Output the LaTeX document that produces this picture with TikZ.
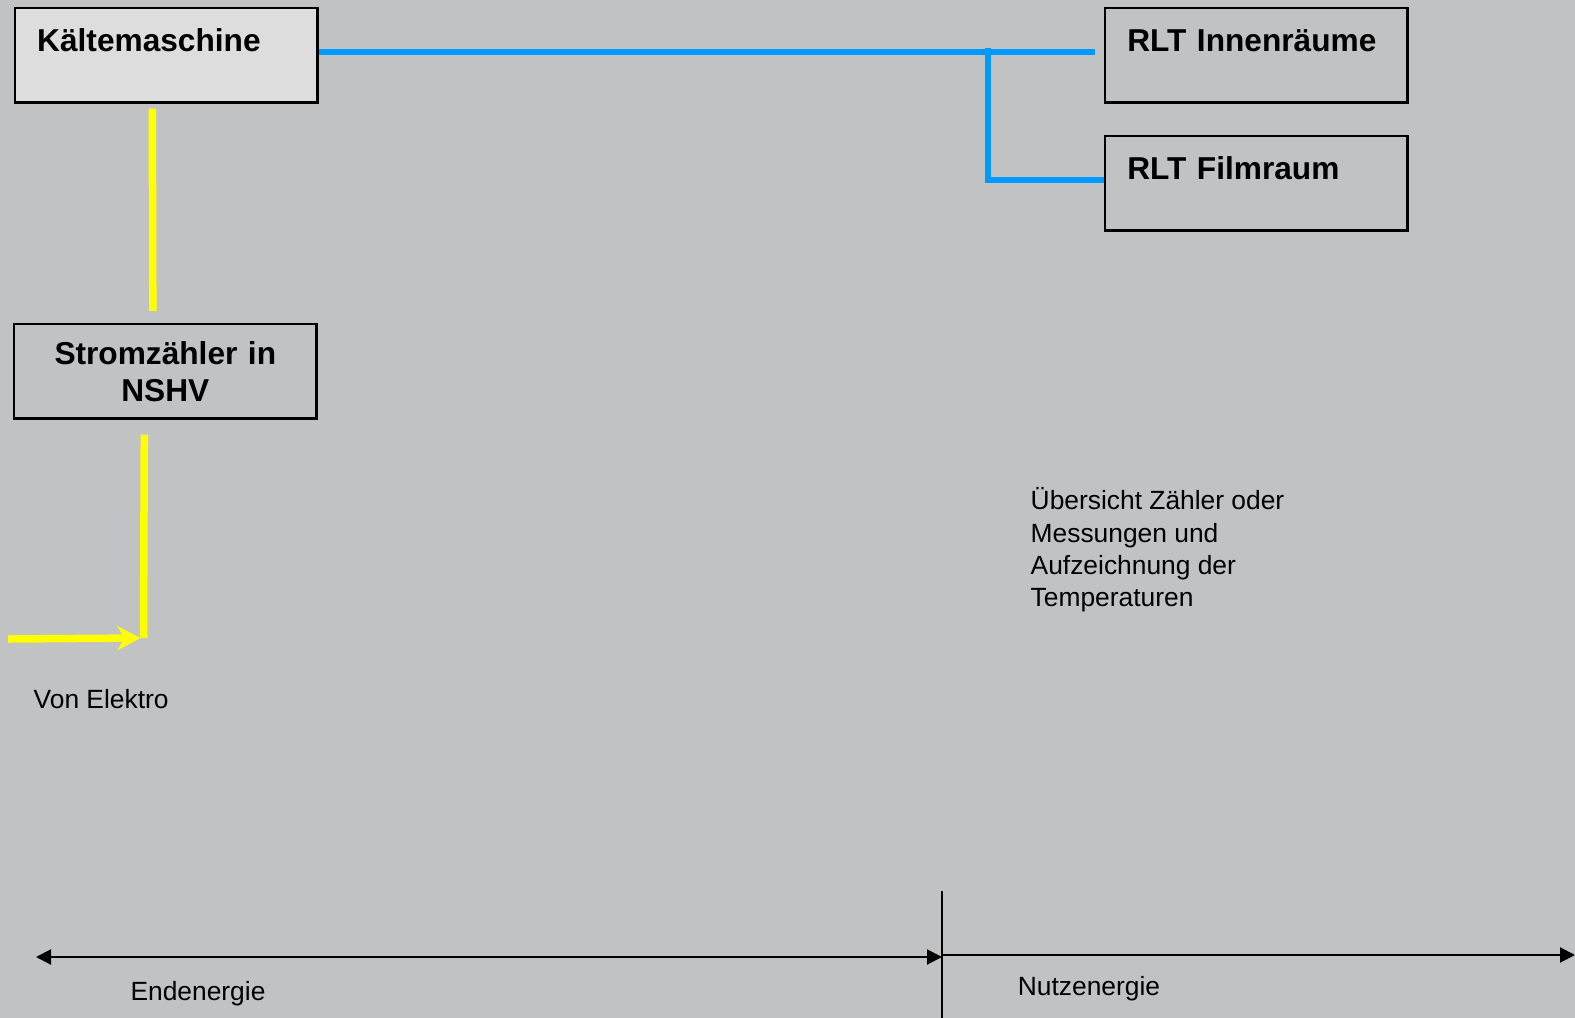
\documentclass[tikz,border=0pt]{standalone}
\usepackage{fontspec}
\setmainfont{Liberation Sans}
\usetikzlibrary{positioning, arrows.meta}
\definecolor{bggray}{RGB}{193,194,196}
\definecolor{boxgray}{RGB}{221,221,221}
\definecolor{coldblue}{RGB}{0,153,255}
\definecolor{powyellow}{RGB}{255,255,0}

\begin{document}
\begin{tikzpicture}[
        x=0.01cm, y=-0.01cm,
        unit/.style  = {draw, line width=0.7pt, anchor=north west, inner xsep=0.22cm, inner ysep=0pt, text width=2.58cm, align=left, text height=0.43cm, text depth=0.51cm, font=\fontsize{9}{10.5}\selectfont\bfseries},
        meter/.style = {draw, line width=0.7pt, anchor=north west, inner xsep=0.22cm, inner ysep=0pt, text width=2.58cm, minimum height=0.94cm, align=center, font=\fontsize{9}{10.5}\selectfont\bfseries},
        note/.style  = {inner sep=0pt, align=left, font=\fontsize{7.5}{9.2}\selectfont},
        coldline/.style = {coldblue, line width=0.06cm},
        powline/.style  = {powyellow, line width=0.075cm},
        axis/.style     = {black, line width=0.6pt},
        axtip/.tip      = {Triangle[length=0.15cm, width=0.15cm]},
    ]
        % Background
        \fill[bggray] (0,0) rectangle (1575,1018);
        \useasboundingbox (0,0) rectangle (1575,1018);

        % Units
        \node[unit, fill=boxgray] (kaelte) at (14,7) {Kältemaschine};
        \node[unit] (innen) at (1104,7) {RLT Innenräume};
        \node[unit] (film) at (1104,135) {RLT Filmraum};
        \node[meter] (nshv) at (13,323) {Stromzähler in\\NSHV};

        % Texts
        \node[note, anchor=west] (vonelektro) at (33,699) {Von Elektro};
        \node[note, anchor=west] (overview) at (1030,550) {Übersicht Zähler oder\\Messungen und\\Aufzeichnung der\\Temperaturen};
        \node[note] (endlabel) at (198,994) {Endenergie};
        \node[note] (nutzlabel) at (1089,989) {Nutzenergie};

        % Cold water
        \coordinate (tee) at (988,48);
        \coordinate (innenEnd) at (1095,52);
        \coordinate (filmIn) at (1104,180);
        \draw[coldline] (kaelte.east |- innenEnd) -- (innenEnd);
        \draw[coldline] (tee) |- (filmIn);

        % Power supply
        \coordinate (bend) at (143.5,638);
        \coordinate (feed) at (8,639);
        \draw[powline] ([xshift=-0.14cm, yshift=-0.05cm]kaelte.south) -- ([xshift=-0.125cm, yshift=0.12cm]nshv.north);
        \draw[powline] ([xshift=-0.21cm, yshift=-0.15cm]nshv.south) -- (bend);
        \draw[powline, -{Stealth[length=0.23cm, width=0.24cm, inset=0.07cm]}] (feed) -- ([xshift=-0.03cm]bend);

        % Energy axis
        \coordinate (divtop) at (942,891);
        \coordinate (divbot) at (942,1018);
        \coordinate (endL) at (36,957);
        \coordinate (endR) at (1575,955);
        \draw[axis] (divtop) -- (divbot);
        \draw[axis, axtip-axtip] (endL) -- (endL -| divtop);
        \draw[axis, -axtip] (divtop |- endR) -- (endR);
    \end{tikzpicture}
\end{document}
